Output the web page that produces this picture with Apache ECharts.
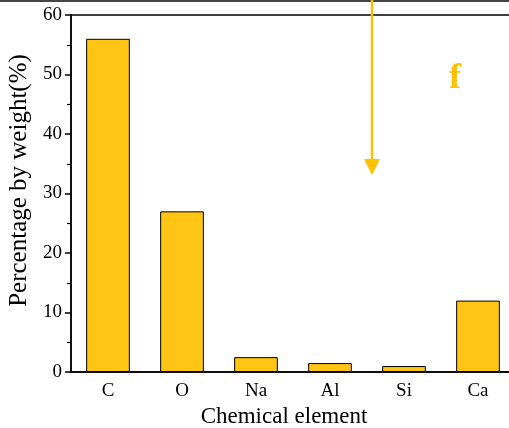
<!DOCTYPE html>
<html><head><meta charset="utf-8">
<script src="https://cdn.jsdelivr.net/npm/echarts@6/dist/echarts.min.js"></script>
<style>html,body{margin:0;padding:0;background:#fff}#c{width:509px;height:428px}</style>
</head><body><div id="c"></div>
<script>
const categories = ['C', 'O', 'Na', 'Al', 'Si', 'Ca'];
const weightPercent = [56, 27, 2.5, 1.5, 1.0, 12];
const yTicks = [0, 10, 20, 30, 40, 50, 60];

const font = '"Liberation Serif", "Times New Roman", serif';
const chart = echarts.init(document.getElementById('c'));
chart.setOption({
  animation: false,
  grid: { left: 71, width: 444, top: 15, height: 357, containLabel: false, outerBoundsMode: 'none',
          show: true, borderColor: '#000', borderWidth: 1.5, backgroundColor: 'transparent' },
  xAxis: [{
    type: 'category', data: categories,
    axisLine: { lineStyle: { color: '#000', width: 1.5 } },
    axisTick: { alignWithLabel: true, length: 6, lineStyle: { color: '#000', width: 1.5 } },
    axisLabel: { color: '#000', fontFamily: font, fontSize: 19, margin: 10 },
    name: 'Chemical element', nameLocation: 'middle', nameGap: 30,
    nameTextStyle: { color: '#000', fontFamily: font, fontSize: 23, padding: [0, 18, 0, 0] }
  }, {
    type: 'category', data: categories, position: 'bottom',
    axisLine: { show: false },
    axisTick: { alignWithLabel: false, length: 4, lineStyle: { color: '#000', width: 1.2 } },
    axisLabel: { show: false }
  }],
  yAxis: {
    type: 'value', min: yTicks[0], max: yTicks[yTicks.length - 1], interval: 10,
    axisLine: { show: true, lineStyle: { color: '#000', width: 1.5 } },
    axisTick: { show: true, length: 6, lineStyle: { color: '#000', width: 1.5 } },
    minorTick: { show: true, splitNumber: 2, length: 4, lineStyle: { color: '#000', width: 1.2 } },
    splitLine: { show: false },
    axisLabel: { color: '#000', fontFamily: font, fontSize: 19, margin: 9 },
    name: 'Percentage by weight(%)', nameLocation: 'middle', nameGap: 38,
    nameTextStyle: { color: '#000', fontFamily: font, fontSize: 25, padding: [0, 0, 0, 26] }
  },
  series: [{
    type: 'bar', data: weightPercent, barWidth: '59%',
    itemStyle: { color: '#FFC414', borderColor: '#000', borderWidth: 1 }
  }],
  graphic: [
    { type: 'rect', shape: { x: 0, y: 0, width: 509, height: 2 }, style: { fill: '#444' }, z: 100 },
    { type: 'line', shape: { x1: 372, y1: 0, x2: 372, y2: 162 }, style: { stroke: '#FFC000', lineWidth: 2.5 }, z: 100 },
    { type: 'polygon', shape: { points: [[364, 159], [380, 159], [372, 175]] }, style: { fill: '#FFC000' }, z: 100 },
    { type: 'text', x: 455, y: 79, style: { text: 'f', fill: '#FFC000', font: 'bold 36px ' + font, textAlign: 'center', textVerticalAlign: 'middle' }, z: 100 }
  ]
});
</script></body></html>
